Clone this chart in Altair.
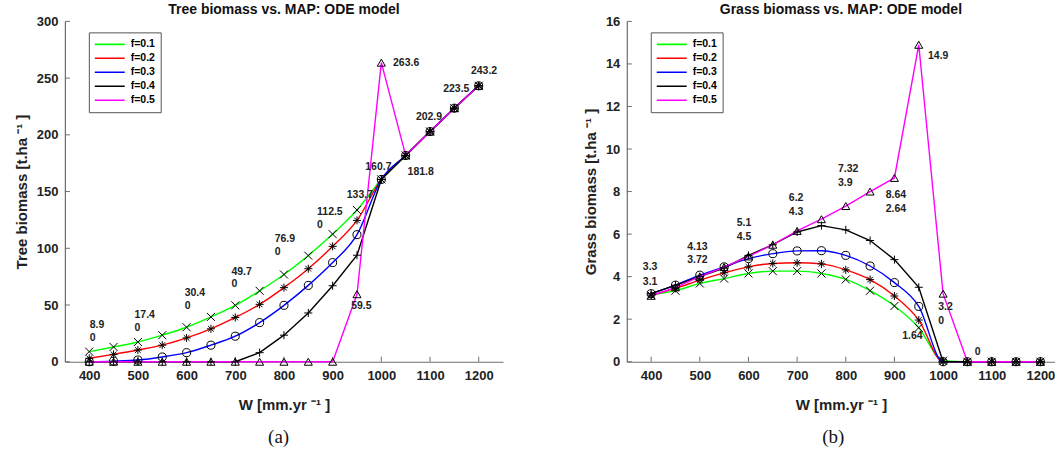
import altair as alt
import pandas as pd

# ---------------- data ----------------
W = [400, 450, 500, 550, 600, 650, 700, 750, 800, 850, 900, 950, 1000, 1050, 1100, 1150, 1200]
F_LABELS = ["f=0.1", "f=0.2", "f=0.3", "f=0.4", "f=0.5"]
COLORS = ["#00ff00", "#ff0000", "#0000ff", "#000000", "#ff00ff"]

tree_f01 = [8.9, 13.0, 17.4, 23.4, 30.4, 39.5, 49.7, 62.5, 76.9, 93.5, 112.5, 133.7, 160.7, 181.8, 202.9, 223.5, 243.2]
tree_f02 = [3.0, 6.5, 10.3, 14.6, 21.0, 29.0, 39.0, 50.6, 65.3, 82.0, 101.7, 124.6, 160.7, 181.8, 202.9, 223.5, 243.2]
tree_f03 = [0.0, 0.5, 1.5, 4.2, 8.0, 14.6, 22.5, 34.5, 49.7, 67.3, 87.4, 112.0, 160.7, 181.8, 202.9, 223.5, 243.2]
tree_f04 = [0.0, 0.0, 0.0, 0.0, 0.0, 0.0, 0.0, 8.0, 23.4, 43.0, 67.0, 93.9, 160.7, 181.8, 202.9, 223.5, 243.2]
tree_f05 = [0.0, 0.0, 0.0, 0.0, 0.0, 0.0, 0.0, 0.0, 0.0, 0.0, 0.0, 59.5, 263.6, 181.8, 202.9, 223.5, 243.2]

grass_f01 = [3.13, 3.34, 3.68, 3.91, 4.15, 4.26, 4.26, 4.15, 3.87, 3.34, 2.62, 1.6, 0.05, 0.0, 0.0, 0.0, 0.0]
grass_f02 = [3.13, 3.45, 3.84, 4.18, 4.46, 4.62, 4.65, 4.6, 4.32, 3.86, 3.09, 1.96, 0.0, 0.0, 0.0, 0.0, 0.0]
grass_f03 = [3.2, 3.6, 4.07, 4.46, 4.85, 5.08, 5.21, 5.22, 5.0, 4.5, 3.72, 2.6, 0.0, 0.0, 0.0, 0.0, 0.0]
grass_f04 = [3.2, 3.6, 4.0, 4.4, 5.0, 5.5, 6.1, 6.4, 6.2, 5.7, 4.8, 3.5, 0.0, 0.0, 0.0, 0.0, 0.0]
grass_f05 = [3.1, 3.5, 4.0, 4.45, 4.95, 5.5, 6.15, 6.7, 7.32, 8.0, 8.64, 14.9, 3.2, 0.0, 0.0, 0.0, 0.0]

# value annotations (text, W position, value position)
tree_lab_text = ["8.9", "0", "17.4", "0", "30.4", "0", "49.7", "0", "76.9", "0", "112.5", "0",
                 "133.7", "59.5", "160.7", "263.6", "181.8", "202.9", "223.5", "243.2"]
tree_lab_w = [401, 401, 493, 493, 596, 596, 692, 692, 781, 781, 868, 868,
              929, 938, 967, 1024, 1054, 1071, 1127, 1184]
tree_lab_v = [32.5, 20.8, 41.2, 29.6, 60.8, 49.1, 79.2, 68.4, 108.5, 96.8, 131.8, 120.8,
              147.0, 49.1, 172.0, 263.0, 167.5, 215.8, 240.0, 256.0]

grass_lab_text = ["3.3", "3.1", "4.13", "3.72", "5.1", "4.5", "6.2", "4.3", "7.32", "3.9",
                  "8.64", "2.64", "14.9", "3.2", "0", "1.64", "0"]
grass_lab_w = [383, 383, 474, 474, 576, 576, 683, 683, 784, 784, 882, 882, 969, 990, 990, 916, 1065]
grass_lab_v = [4.43, 3.77, 5.39, 4.77, 6.53, 5.88, 7.72, 7.02, 9.07, 8.41, 7.86, 7.19, 14.35, 2.55, 1.92, 1.19, 0.44]

x_ticks = [400, 500, 600, 700, 800, 900, 1000, 1100, 1200]
tree_ticks = [0, 50, 100, 150, 200, 250, 300]
grass_ticks = [0, 2, 4, 6, 8, 10, 12, 14, 16]

# ---------------- shapes ----------------
X_PATH = "M-1,-1L1,1M-1,1L1,-1"
STAR_PATH = "M-1,0L1,0M0,-1L0,1M-0.7,-0.7L0.7,0.7M-0.7,0.7L0.7,-0.7"
PLUS_PATH = "M-1,0L1,0M0,-1L0,1"
SHAPES = [X_PATH, STAR_PATH, "circle", PLUS_PATH, "triangle-up"]

FONT = "Liberation Sans"
AXIS_GRAY = "#6e6e6e"
PH = 341


def long_df(series, name):
    rows = []
    for lab, vals in zip(F_LABELS, series):
        for w, v in zip(W, vals):
            rows.append({"W": w, "f": lab, name: v})
    return pd.DataFrame(rows)


def panel(series, name, ymax, yticks, ytitle, title, lab_text, lab_w, lab_v, xmax, pw):
    df = long_df(series, name)
    xenc = alt.X("W:Q", scale=alt.Scale(domain=[350, xmax], nice=False, zero=False),
                 axis=alt.Axis(values=x_ticks, format="d", title="W [mm.yr  ⁻¹  ]", tickSize=0,
                               labelPadding=8, titlePadding=15))
    yenc = alt.Y(f"{name}:Q", scale=alt.Scale(domain=[0, ymax], nice=False),
                 axis=alt.Axis(values=yticks, title=ytitle, tickSize=0, labelPadding=7,
                               titlePadding=7))
    color = alt.Color("f:N", scale=alt.Scale(domain=F_LABELS, range=COLORS),
                      legend=alt.Legend(title=None, orient="none", legendX=24, legendY=11,
                                        symbolType="stroke", symbolSize=900, clipHeight=14,
                                        symbolStrokeWidth=1.6, labelFontSize=10.5,
                                        labelFontWeight="bold", labelFont=FONT,
                                        padding=5, rowPadding=0, labelOffset=5,
                                        strokeColor="#555555", fillColor="white"))
    smooth = alt.Chart(df).transform_filter(
        alt.FieldOneOfPredicate(field="f", oneOf=F_LABELS[:3])
    ).mark_line(interpolate="monotone", strokeWidth=1.4).encode(x=xenc, y=yenc, color=color,
                                                                 order=alt.Order("W:Q"))
    linear = alt.Chart(df).transform_filter(
        alt.FieldOneOfPredicate(field="f", oneOf=F_LABELS[3:])
    ).mark_line(strokeWidth=1.4).encode(x=xenc, y=yenc, color=color, order=alt.Order("W:Q"))
    point_layers = []
    for lab, shp in zip(F_LABELS, SHAPES):
        point_layers.append(
            alt.Chart(df).transform_filter(alt.datum.f == lab).mark_point(
                shape=shp, filled=False, color="black", strokeWidth=1.0, size=65, opacity=1
            ).encode(x=xenc, y=yenc)
        )
    labs = alt.Chart(pd.DataFrame({"W": lab_w, name: lab_v, "t": lab_text})).mark_text(
        align="left", baseline="middle", fontSize=10.5, fontWeight="bold", font=FONT,
        color="#222222").encode(x=xenc, y=yenc, text="t:N")
    xt = alt.Chart(pd.DataFrame({"W": x_ticks})).mark_rule(color=AXIS_GRAY, strokeWidth=1).encode(
        x=xenc, y=alt.value(PH), y2=alt.value(PH - 5))
    yt = alt.Chart(pd.DataFrame({name: yticks})).mark_rule(color=AXIS_GRAY, strokeWidth=1).encode(
        y=yenc, x=alt.value(0), x2=alt.value(5))
    return alt.layer(xt, yt, smooth, linear, *point_layers, labs).properties(
        width=pw, height=PH,
        title=alt.TitleParams(title, fontSize=14, font=FONT, fontWeight="bold", offset=-2),
    )


left = panel([tree_f01, tree_f02, tree_f03, tree_f04, tree_f05], "tree", 300, tree_ticks,
             "Tree biomass [t.ha  ⁻¹  ]", "Tree biomass vs. MAP: ODE model",
             tree_lab_text, tree_lab_w, tree_lab_v, 1250, 439)
right = panel([grass_f01, grass_f02, grass_f03, grass_f04, grass_f05], "grass", 16, grass_ticks,
              "Grass biomass [t.ha  ⁻¹  ]", "Grass biomass vs. MAP: ODE model",
              grass_lab_text, grass_lab_w, grass_lab_v, 1230, 429)

cap = dict(orient="bottom", font="Liberation Serif", fontSize=19, fontWeight="normal", offset=15)
left_w = alt.vconcat(left).properties(title=alt.TitleParams("(a)", dx=20, **cap))
right_w = alt.vconcat(right).properties(title=alt.TitleParams("(b)", dx=14, **cap))

chart = alt.hconcat(left_w, right_w, spacing=80).resolve_scale(
    color="independent"
).properties(padding={"left": 14, "top": 3, "right": 0, "bottom": 0}).configure_view(
    stroke=None
).configure_axis(
    labelFont=FONT, titleFont=FONT, labelFontSize=13, labelFontWeight="bold",
    titleFontSize=15, titleFontWeight="bold", labelColor="#222222", titleColor="#222222",
    domainColor=AXIS_GRAY, domainWidth=1.2, grid=False,
).configure_title(anchor="middle", color="#111111")

chart.save("out.html", embed_options={"renderer": "svg", "actions": False})
